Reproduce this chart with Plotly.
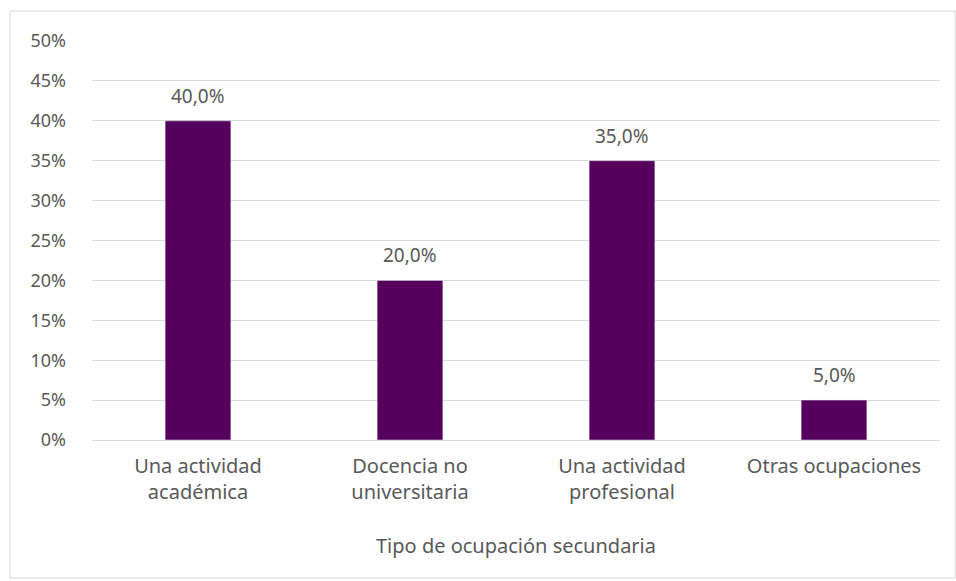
import plotly.graph_objects as go

# categories and values (share of respondents)
categorias = ["Una actividad<br>académica", "Docencia no<br>universitaria",
              "Una actividad<br>profesional", "Otras ocupaciones"]
valores = [0.40, 0.20, 0.35, 0.05]
eje_x = "Tipo de ocupación secundaria"

gris = "#595959"

fig = go.Figure(go.Bar(
    x=categorias,
    y=valores,
    marker=dict(color="#56005E"),
    width=0.31,
    hovertemplate="%{y:.1%}<extra></extra>",
))

# data labels a bit above each bar
for c, v in zip(categorias, valores):
    fig.add_annotation(x=c, y=v, text=f"{v:.1%}".replace(".", ","),
                       showarrow=False, yanchor="middle", yshift=25,
                       font=dict(size=19, color=gris))

fig.update_layout(
    width=956, height=581,
    margin=dict(l=92, r=16, t=41, b=141),
    paper_bgcolor="white",
    plot_bgcolor="white",
    separators=",.",
    font=dict(family="Noto Sans", size=19, color=gris),
    showlegend=False,
)

fig.update_yaxes(
    range=[0, 0.5], dtick=0.05, tickformat=".0%",
    showgrid=True, gridcolor="#d9d9d9", gridwidth=1,
    zeroline=True, zerolinecolor="#d9d9d9", zerolinewidth=1,
    showline=False, ticks="", ticklabelstandoff=25,
    tickfont=dict(size=18, color=gris),
)
fig.update_xaxes(
    showline=False, ticks="", ticklabelstandoff=12,
    tickfont=dict(size=20, color=gris),
    title=dict(text=eje_x, font=dict(size=20, color=gris), standoff=34),
)

# light frame around the whole chart
fig.add_shape(type="rect", xref="paper", yref="paper",
              x0=-0.0967, x1=1.018, y0=-0.346, y1=1.075,
              line=dict(color="#d9d9d9", width=1), layer="below")

fig.write_html("out.html", config={"displayModeBar": False},
               post_script="document.body.style.margin='0';")
